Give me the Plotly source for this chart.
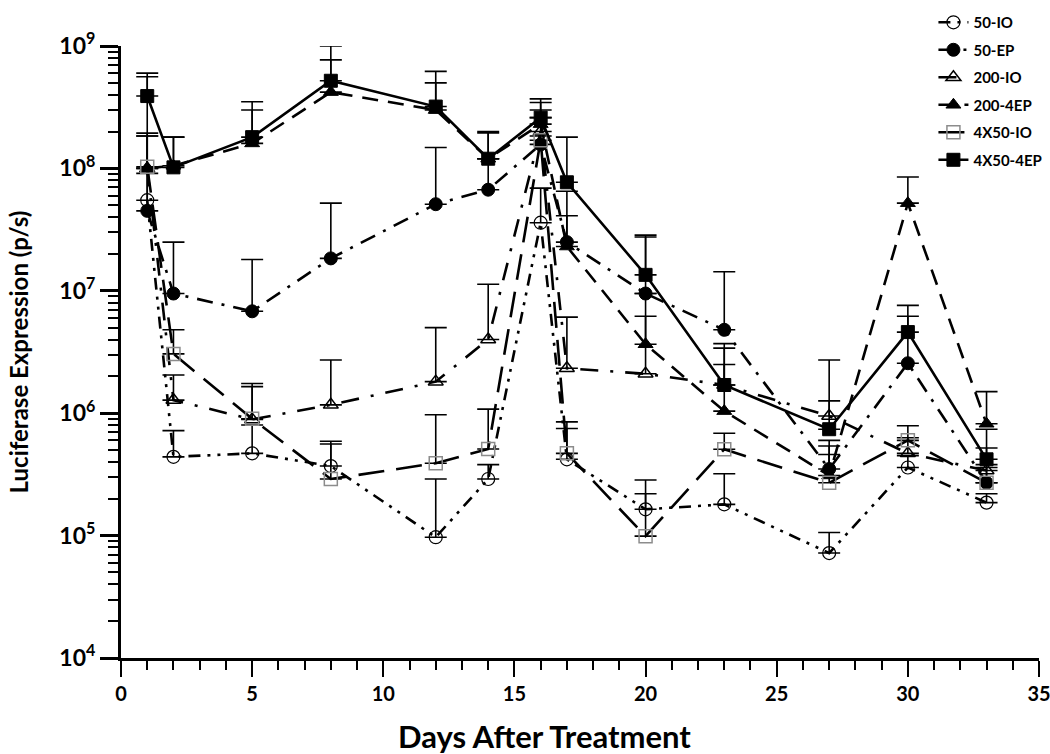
import plotly.graph_objects as go

days = [1, 2, 5, 8, 12, 14, 16, 17, 20, 23, 27, 30, 33]

io50 = [5.5e7, 4.4e5, 4.7e5, 3.7e5, 9.7e4, 2.9e5, 3.6e7, 4.2e5, 1.64e5, 1.8e5, 7.2e4, 3.6e5, 1.86e5]
io50_up = [9.1e7, 7.2e5, 8.0e5, 5.9e5, 2.9e5, 3.8e5, 6.9e7, 7.5e5, 2.85e5, 3.2e5, 1.06e5, 4.5e5, 2.2e5]

ep50 = [4.5e7, 9.5e6, 6.8e6, 1.84e7, 5.1e7, 6.7e7, 1.57e8, 2.5e7, 9.5e6, 4.8e6, 3.5e5, 2.56e6, 2.7e5]
ep50_up = [1.84e8, 2.5e7, 1.8e7, 5.2e7, 1.48e8, 1.2e8, 1.84e8, 6.5e7, 2.75e7, 1.43e7, 6.0e5, 6.2e6, 3.8e5]

io200 = [1.0e8, 1.28e6, 8.9e5, 1.17e6, 1.81e6, 4.0e6, 2.0e8, 2.33e6, 2.1e6, 1.7e6, 9.5e5, 4.7e5, 3.4e5]
io200_up = [1.84e8, 2.05e6, 1.75e6, 2.72e6, 5.0e6, 1.13e7, 2.6e8, 6.1e6, 9.5e6, 2.5e6, 2.72e6, 6.3e5, 5.2e5]

ep200 = [1.0e8, 1.05e8, 1.6e8, 4.2e8, 3.0e8, 1.2e8, 2.3e8, 2.3e7, 3.66e6, 1.04e6, 3.1e5, 5.2e7, 8.2e5]
ep200_up = [5.6e8, 1.8e8, 3.0e8, 7.7e8, 5.0e8, 1.95e8, 3.45e8, 4.1e7, 6.2e6, 3.4e6, 5.4e5, 8.5e7, 1.5e6]

io4x50 = [1.03e8, 3.05e6, 9.0e5, 2.9e5, 3.9e5, 5.1e5, 1.7e8, 4.7e5, 9.9e4, 5.07e5, 2.7e5, 6.0e5, 2.7e5]
io4x50_up = [1.94e8, 4.8e6, 1.65e6, 5.6e5, 9.7e5, 1.08e6, 3.0e8, 8.5e5, 2.2e5, 6.85e5, 4.6e5, 7.9e5, 3.6e5]

ep4x50 = [3.9e8, 1.02e8, 1.8e8, 5.2e8, 3.2e8, 1.2e8, 2.6e8, 7.7e7, 1.35e7, 1.7e6, 7.4e5, 4.6e6, 4.2e5]
ep4x50_up = [6.0e8, 1.8e8, 3.5e8, 1.0e9, 6.2e8, 2.0e8, 3.7e8, 1.8e8, 2.85e7, 3.7e6, 1.26e6, 7.6e6, 7.4e5]

x_tickvals = [0, 5, 10, 15, 20, 25, 30, 35]
y_tickvals = [1e4, 1e5, 1e6, 1e7, 1e8, 1e9]
y_ticktext = ["10<sup>4</sup>", "10<sup>5</sup>", "10<sup>6</sup>", "10<sup>7</sup>", "10<sup>8</sup>", "10<sup>9</sup>"]

series = [
    ("50-IO", io50, io50_up, "circle-open", "black", 1.2, "12px,7px,3px,7px,3px,7px"),
    ("50-EP", ep50, ep50_up, "circle", "black", 1, "16px,9px,3px,9px"),
    ("200-IO", io200, io200_up, "triangle-up-open", "black", 1.5, "18px,12px,3px,12px"),
    ("200-4EP", ep200, ep200_up, "triangle-up", "black", 1, "16px,10px"),
    ("4X50-IO", io4x50, io4x50_up, "square-open", "#8c8c8c", 1.5, "26px,12px"),
    ("4X50-4EP", ep4x50, ep4x50_up, "square", "black", 1, "solid"),
]

FONT = "Lato"
fig = go.Figure()
for name, vals, ups, sym, mcol, mlw, dash in series:
    plus = [u - v for u, v in zip(ups, vals)]
    fig.add_trace(go.Scatter(
        x=days, y=vals, name=name, legendgroup=name, mode="lines+markers",
        line=dict(color="black", width=2.6, dash=dash),
        marker=dict(symbol=sym, size=13, color=mcol,
                    line=dict(color=mcol, width=mlw)),
        error_y=dict(type="data", symmetric=False, array=plus,
                     arrayminus=[0] * len(vals), color="black",
                     thickness=1.6, width=11),
        cliponaxis=False,
    ))

fig.add_annotation(
    text="Days After Treatment", xref="paper", yref="paper",
    x=0.461, y=-0.128, xanchor="center", yanchor="middle", showarrow=False,
    font=dict(family=FONT, size=31, weight="bold", color="black"),
)

fig.update_layout(
    width=1050, height=754,
    paper_bgcolor="white", plot_bgcolor="white",
    margin=dict(l=121, r=11, t=46, b=96, autoexpand=False),
    font=dict(family=FONT, color="black", size=18, weight="bold"),
    showlegend=True,
    legend=dict(x=0.885, xref="paper", y=0.992, yref="container",
                xanchor="left", yanchor="top",
                bgcolor="rgba(0,0,0,0)", tracegroupgap=5,
                font=dict(family=FONT, size=15, weight="bold")),
    xaxis=dict(range=[0, 35], tickmode="array", tickvals=x_tickvals,
               ticktext=[str(v) for v in x_tickvals], ticklabeloverflow="allow",
               ticks="outside", ticklen=16, tickwidth=2, tickcolor="black",
               showline=True, linecolor="black", linewidth=3,
               showgrid=False, zeroline=False, automargin=False,
               tickfont=dict(family=FONT, size=20, weight="bold"),
               minor=dict(ticks="outside", ticklen=9, tickwidth=2,
                          tickcolor="black", tick0=0, dtick=1, showgrid=False)),
    yaxis=dict(type="log", range=[4, 9], tickvals=y_tickvals, ticktext=y_ticktext,
               ticks="outside", ticklen=18, tickwidth=3, tickcolor="black",
               showline=True, linecolor="black", linewidth=3,
               showgrid=False, zeroline=False, automargin=False,
               tickfont=dict(family=FONT, size=23, weight="bold"),
               minor=dict(ticks="outside", ticklen=10, tickwidth=2,
                          tickcolor="black", dtick="D1", showgrid=False),
               title=dict(text="Luciferase Expression (p/s)", standoff=24,
                          font=dict(family=FONT, size=24, weight="bold"))),
)

fig.write_html(
    "out.html",
    config={"displayModeBar": False},
    post_script="document.body.style.margin='0';document.body.style.overflow='hidden';",
)
